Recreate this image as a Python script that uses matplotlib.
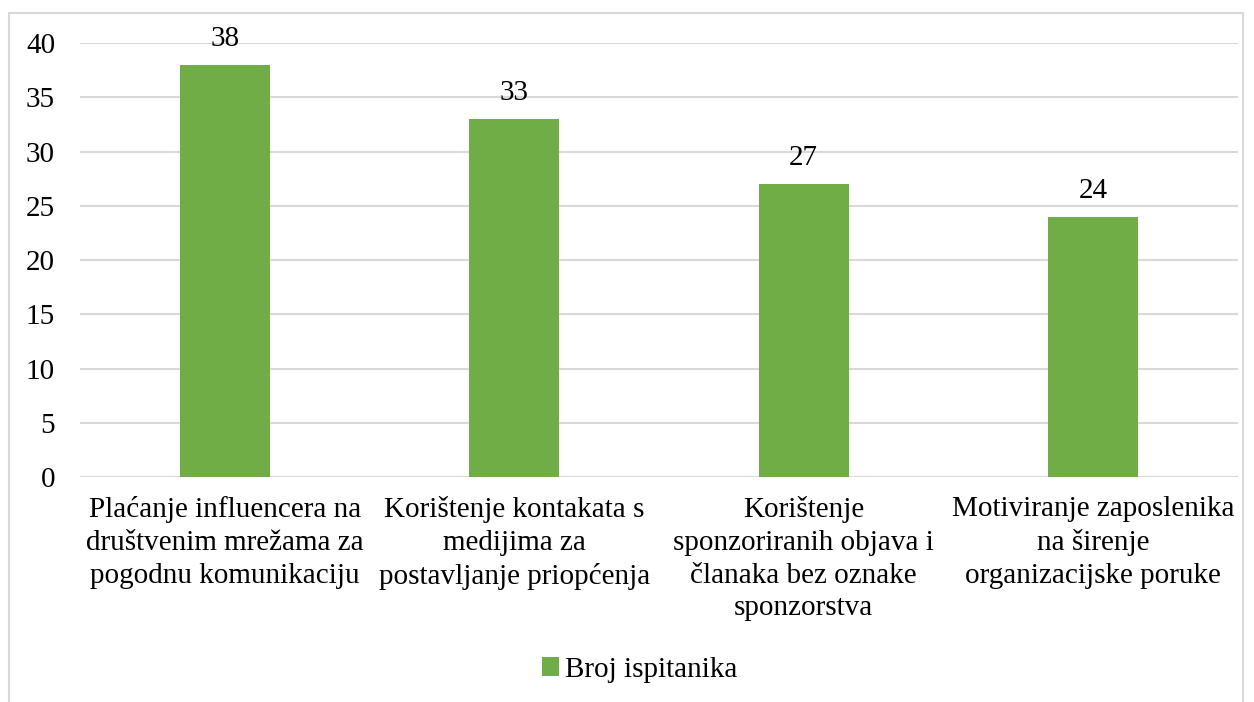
import matplotlib
matplotlib.use("Agg")
import matplotlib.pyplot as plt
from matplotlib.patches import Rectangle

categories = [
    "Plaćanje influencera na\ndruštvenim mrežama za\npogodnu komunikaciju",
    "Korištenje kontakata s\nmedijima za\npostavljanje priopćenja",
    "Korištenje\nsponzoriranih objava i\nčlanaka bez oznake\nsponzorstva",
    "Motiviranje zaposlenika\nna širenje\norganizacijske poruke",
]
values = [38, 33, 27, 24]
series_name = "Broj ispitanika"

plt.rcParams['font.family'] = ['Liberation Serif', 'DejaVu Serif']

fig = plt.figure(figsize=(12.54, 7.02), dpi=100)
ax = fig.add_axes([0.0638, 0.3205, 0.9234, 0.6182])

green = '#70AD47'
x = range(len(categories))
bars = ax.bar(x, values, width=0.31, color=green, label=series_name, zorder=3)

for i, v in enumerate(values):
    ax.text(i, v + 1.2, str(v), ha='center', va='bottom', fontsize=21)

ax.set_xlim(-0.5, len(categories) - 0.5)
ax.set_ylim(0, 40)
ax.set_yticks(range(0, 41, 5))
ax.yaxis.grid(True, color='#D9D9D9', linewidth=1.5, zorder=0)
ax.set_axisbelow(True)
for s in ax.spines.values():
    s.set_visible(False)
ax.axhline(0, color='#D9D9D9', linewidth=1.5, zorder=1)
ax.tick_params(axis='both', length=0, labelsize=21)
ax.tick_params(axis='y', pad=18)
ax.tick_params(axis='x', pad=14)
ax.set_xticks(list(x))
ax.set_xticklabels(categories, linespacing=1.33)

fig.legend(handles=[bars], labels=[series_name], loc='center',
           bbox_to_anchor=(0.51, 0.046), frameon=False, fontsize=21,
           handlelength=0.6, handleheight=0.6, handletextpad=0.2)

fig.patches.append(Rectangle((0.0072, -0.1), 0.984, 1.0815, transform=fig.transFigure,
                             fill=False, edgecolor='#D9D9D9', linewidth=1.5))

fig.savefig("out.png", dpi=100)
